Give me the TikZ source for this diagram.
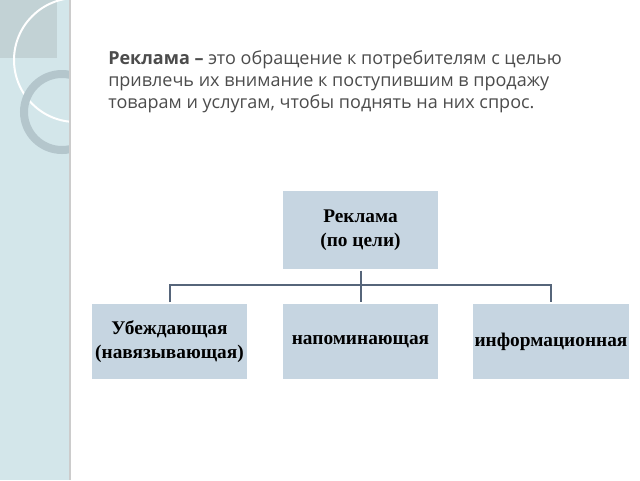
\documentclass[tikz,border=0pt]{standalone}
\usepackage{fontspec}
\setmainfont{Liberation Serif}
\newfontfamily\osans{Open Sans}
\begin{document}
\begin{tikzpicture}[x=0.75pt,y=-0.75pt,
  box/.style={fill=boxc,draw=white,line width=1pt,minimum width=157*0.75pt,align=center,inner sep=1pt,font=\bfseries\fontsize{14.5}{18}\selectfont},
  conn/.style={draw=linec,line width=1.5pt}]
\definecolor{boxc}{HTML}{C6D5E1}
\definecolor{linec}{HTML}{56657A}
\definecolor{strip}{HTML}{D3E6EA}
\definecolor{ringc}{HTML}{B4C6CC}
\useasboundingbox (0,0) rectangle (640,480);
\fill[white] (0,0) rectangle (640,480);
\begin{scope}
\clip (0,0) rectangle (70,480);
\fill[strip] (0,0) rectangle (70,480);
\fill[gray!20!strip] (0,0) rectangle (57,58);
\draw[white,line width=1.5pt] (76,60) circle (62);
\draw[ringc,line width=6pt] (62,112) circle (38);
\end{scope}
\draw[gray!40,line width=1pt] (70,0) -- (70,480);
\node[anchor=north west,align=left,text=black!70,font=\osans\fontsize{13.5}{16.5}\selectfont,inner sep=0pt] (t) at (108,50)
{\textbf{Реклама –} это обращение к потребителям с целью\\привлечь их внимание к поступившим в продажу\\товарам и услугам, чтобы поднять на них спрос.};
\node[box,minimum height=80*0.75pt] (top) at (360.5,230) {Реклама\\(по цели)};
\node[box,minimum height=77*0.75pt] (a) at (169.5,341.5) {Убеждающая\\(навязывающая)};
\node[box,minimum height=77*0.75pt] (b) at (360.5,341.5) {напоминающая};
\node[box,minimum height=77*0.75pt] (c) at (551,341.5) {информационная};
\coordinate (j) at (360.5,285);
\draw[conn] (top.south) -- (j);
\draw[conn] (a.north) |- (j) -| (c.north);
\draw[conn] (j) -- (b.north);
\end{tikzpicture}
\end{document}
